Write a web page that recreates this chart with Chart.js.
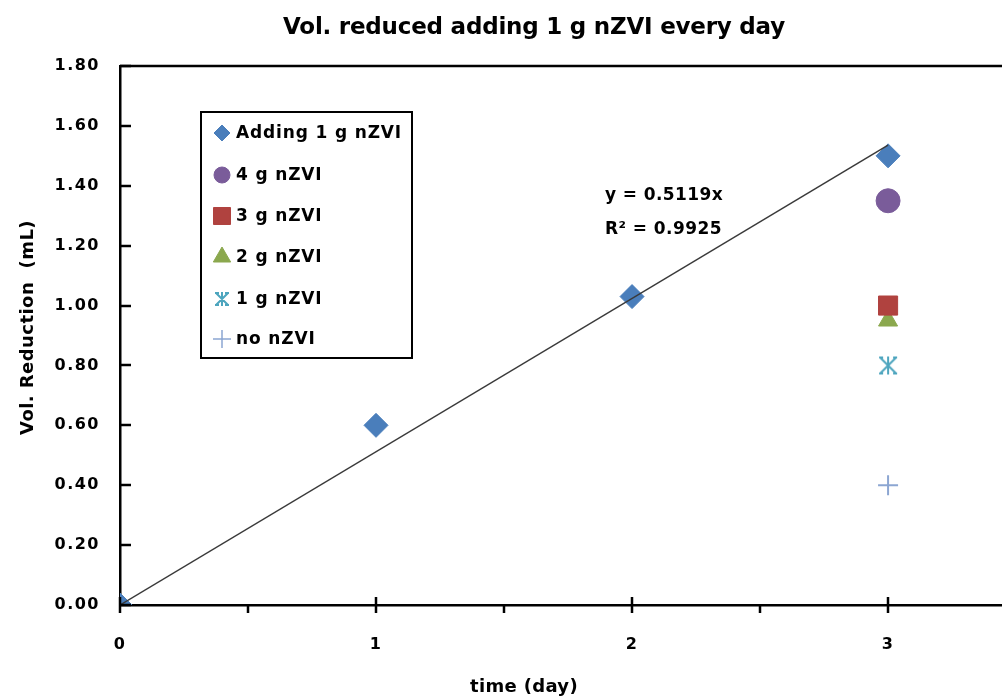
<!DOCTYPE html>
<html lang="en">
<head>
  <meta charset="UTF-8" />
  <title>Vol. reduced adding 1 g nZVI every day</title>
  <style>
    body { margin: 0; background: #fff; overflow: hidden; }
    #wrap { width: 1002px; height: 698px; }
  </style>
</head>
<body>
  <div id="wrap"><canvas id="chart" width="1002" height="698"></canvas></div>

  <script src="https://cdn.jsdelivr.net/npm/chart.js"></script>
  <script>
    // data
    const days = [0, 1, 2, 3];
    const adding1g = [0, 0.60, 1.03, 1.50];
    const singleDay = [3];
    const g4 = [1.35];
    const g3 = [1.00];
    const g2 = [0.95];
    const g1 = [0.80];
    const noZVI = [0.40];
    const slope = 0.5119;
    const r2 = 0.9925;
    const trendX = [0, 3];
    const xTicks = [0, 1, 2, 3];
    const xMinorTicks = [0.5, 1.5, 2.5];
    const yTicks = [0, 0.2, 0.4, 0.6, 0.8, 1.0, 1.2, 1.4, 1.6, 1.8];

    const FONT = '"DejaVu Sans", Verdana, sans-serif';

    function pts(xs, ys) {
      return xs.map((x, i) => ({ x: x, y: ys[i] }));
    }

    // draw text stretched to a given width with letter spacing
    function fitText(ctx, text, x, y, width) {
      ctx.letterSpacing = '0px';
      const w = ctx.measureText(text).width;
      const ls = (width - w) / text.length;
      ctx.letterSpacing = ls.toFixed(2) + 'px';
      ctx.fillText(text, x, y);
      ctx.letterSpacing = '0px';
    }

    // asterisk marker (x + vertical bar)
    function asterisk(size, color) {
      const c = document.createElement('canvas');
      c.width = size; c.height = size;
      const g = c.getContext('2d');
      g.strokeStyle = color;
      g.lineWidth = 2;
      const m = 2, s = size - 2;
      g.beginPath();
      g.moveTo(m, m); g.lineTo(s, s);
      g.moveTo(s, m); g.lineTo(m, s);
      g.moveTo(size / 2, 1); g.lineTo(size / 2, size - 1);
      g.moveTo(m - 1, m); g.lineTo(m + 3, m);
      g.moveTo(s - 3, m); g.lineTo(s + 1, m);
      g.moveTo(m - 1, s); g.lineTo(m + 3, s);
      g.moveTo(s - 3, s); g.lineTo(s + 1, s);
      g.stroke();
      return c;
    }

    const series = [
      { label: 'Adding 1 g nZVI', style: 'rectRot', color: '#4A7EBB', r: 12, lr: 8 },
      { label: '4 g nZVI', style: 'circle', color: '#7A5C9A', r: 12, lr: 8 },
      { label: '3 g nZVI', style: 'rect', color: '#B0423F', r: 13.5, lr: 12 },
      { label: '2 g nZVI', style: 'triangle', color: '#8BA84E', r: 11, lr: 10 },
      { label: '1 g nZVI', style: asterisk(20, '#4DA5BE'), color: '#4DA5BE', r: 10, lr: 8 },
      { label: 'no nZVI', style: 'cross', color: '#8CA6D2', r: 10, lr: 9 }
    ];
    const legendIcons = [series[0].style, series[1].style, series[2].style, series[3].style, asterisk(16, '#4DA5BE'), series[5].style];

    const seriesData = [
      pts(days, adding1g),
      pts(singleDay, g4),
      pts(singleDay, g3),
      pts(singleDay, g2),
      pts(singleDay, g1),
      pts(singleDay, noZVI)
    ];

    const datasets = series.map((s, i) => ({
      label: s.label,
      data: seriesData[i],
      pointStyle: s.style,
      pointRadius: s.r,
      pointHoverRadius: s.r,
      backgroundColor: s.color,
      borderColor: s.color,
      pointBorderWidth: s.style === 'cross' ? 2 : 1,
      showLine: false,
      order: 1
    }));

    datasets.push({
      label: 'trend',
      data: trendX.map(x => ({ x: x, y: slope * x })),
      showLine: true,
      pointRadius: 0,
      borderColor: '#3a3a3a',
      borderWidth: 1.5,
      order: 0
    });

    const extras = {
      id: 'extras',
      beforeDraw(chart) {
        // spacing for the tick labels drawn by the scales
        chart.ctx.letterSpacing = '1.5px';
      },
      afterDraw(chart) {
        const ctx = chart.ctx;
        const xs = chart.scales.x, ys = chart.scales.y;
        const a = chart.chartArea;
        ctx.save();
        ctx.letterSpacing = '0px';

        // top border
        ctx.strokeStyle = '#000';
        ctx.lineWidth = 2.5;
        ctx.beginPath();
        ctx.moveTo(a.left, a.top);
        ctx.lineTo(a.right, a.top);
        ctx.stroke();

        // y ticks pointing inward
        yTicks.forEach(v => {
          const y = Math.round(ys.getPixelForValue(v));
          ctx.beginPath();
          ctx.moveTo(a.left, y);
          ctx.lineTo(a.left + 11, y);
          ctx.stroke();
        });
        // x major ticks cross the axis, minor below
        xTicks.forEach(v => {
          const x = Math.round(xs.getPixelForValue(v));
          ctx.beginPath();
          ctx.moveTo(x, a.bottom - 8);
          ctx.lineTo(x, a.bottom + 8);
          ctx.stroke();
        });
        xMinorTicks.forEach(v => {
          const x = Math.round(xs.getPixelForValue(v));
          ctx.beginPath();
          ctx.moveTo(x, a.bottom);
          ctx.lineTo(x, a.bottom + 8);
          ctx.stroke();
        });

        // titles
        ctx.fillStyle = '#000';
        ctx.textAlign = 'left';
        ctx.textBaseline = 'middle';
        ctx.font = 'bold 23px ' + FONT;
        fitText(ctx, 'Vol. reduced adding 1 g nZVI every day', 283, 28, 502);
        ctx.font = 'bold 18px ' + FONT;
        fitText(ctx, 'time (day)', 470, 687, 108);
        ctx.save();
        ctx.translate(28, 435);
        ctx.rotate(-Math.PI / 2);
        fitText(ctx, 'Vol. Reduction  (mL)', 0, 0, 215);
        ctx.restore();

        // trendline label
        ctx.font = 'bold 17px ' + FONT;
        fitText(ctx, 'y = ' + slope + 'x', 605, 196, 118);
        fitText(ctx, 'R\u00b2 = ' + r2, 605, 230, 117);

        // legend box
        const lx = 201, ly = 112, lw = 211, lh = 246;
        ctx.fillStyle = '#fff';
        ctx.fillRect(lx, ly, lw, lh);
        ctx.strokeStyle = '#000';
        ctx.lineWidth = 2;
        ctx.strokeRect(lx, ly, lw, lh);
        const rowY = [133, 175, 216, 257, 299, 339];
        ctx.font = 'bold 17px ' + FONT;
        const lw0 = ctx.measureText(series[0].label).width;
        const legendLs = (166 - lw0) / series[0].label.length;
        series.forEach((s, i) => {
          ctx.fillStyle = s.color;
          ctx.strokeStyle = s.color;
          ctx.lineWidth = s.style === 'cross' ? 1.5 : 1;
          Chart.helpers.drawPoint(ctx, { pointStyle: legendIcons[i], radius: s.lr, borderWidth: 1 }, 222, rowY[i]);
          ctx.fillStyle = '#000';
          ctx.letterSpacing = legendLs.toFixed(2) + 'px';
          ctx.fillText(s.label, 236, rowY[i] + 1);
          ctx.letterSpacing = '0px';
        });
        ctx.restore();
      }
    };

    new Chart(document.getElementById('chart').getContext('2d'), {
      type: 'scatter',
      data: { datasets: datasets },
      options: {
        responsive: false,
        animation: false,
        devicePixelRatio: 1,
        layout: { autoPadding: false, padding: { top: 66, left: 0, right: 0, bottom: 0 } },
        plugins: {
          legend: { display: false },
          tooltip: { enabled: false },
          title: { display: false }
        },
        scales: {
          x: {
            type: 'linear',
            min: 0,
            max: 3.445,
            grid: { display: false },
            border: { display: true, color: '#000', width: 2.5 },
            afterBuildTicks(scale) { scale.ticks = xTicks.map(v => ({ value: v })); },
            afterFit(scale) { scale.height = 93; },
            ticks: {
              padding: 22,
              color: '#000',
              font: { family: FONT, size: 16, weight: 'bold' }
            }
          },
          y: {
            type: 'linear',
            min: 0,
            max: 1.8,
            grid: { display: false },
            border: { display: true, color: '#000', width: 2.5 },
            afterBuildTicks(scale) { scale.ticks = yTicks.map(v => ({ value: v })); },
            afterFit(scale) { scale.width = 120; },
            ticks: {
              padding: 12,
              color: '#000',
              font: { family: FONT, size: 16, weight: 'bold' },
              callback: v => Number(v).toFixed(2)
            }
          }
        }
      },
      plugins: [extras]
    });
  </script>
</body>
</html>
